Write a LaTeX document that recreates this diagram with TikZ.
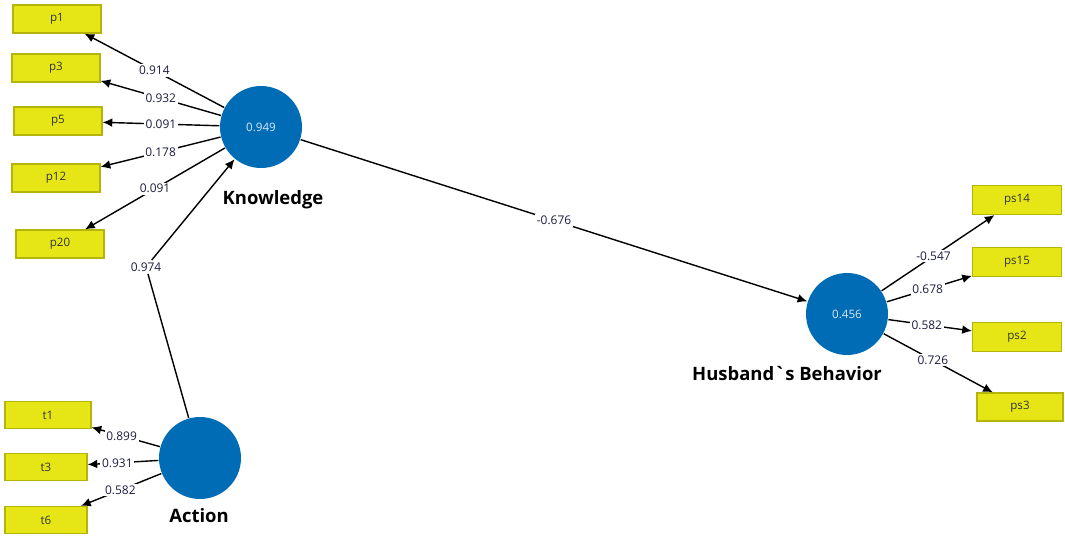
\documentclass[tikz,border=0pt]{standalone}
\usepackage{fontspec}
\setmainfont{Open Sans}
\usepackage{tikz}
\usetikzlibrary{calc}
\usetikzlibrary{arrows.meta}
\tikzset{>={Latex[length=5.5pt,width=5pt]}}
\definecolor{boxyellow}{RGB}{230,230,22}
\definecolor{boxedge}{RGB}{180,180,10}
\definecolor{lvblue}{RGB}{0,108,182}
\definecolor{wtcol}{RGB}{28,28,64}
\tikzset{
  ind/.style={draw=boxedge, fill=boxyellow, line width=0.7pt, minimum width=1.76cm, minimum height=0.56cm, inner sep=0pt, text=black!80, font=\fontsize{6.6}{7}\selectfont},
  lv/.style={circle, fill=lvblue, minimum size=1.64cm, inner sep=0pt, text=white!85!lvblue, font=\fontsize{6.6}{7}\selectfont},
  lvname/.style={anchor=base, font=\bfseries\fontsize{10.5}{12}\selectfont},
  wt/.style={fill=white, inner sep=1pt, text=wtcol, font=\fontsize{6.8}{8}\selectfont},
}

\begin{document}
\begin{tikzpicture}[x=0.02cm, y=-0.02cm, line width=0.8pt]
                        \useasboundingbox (0,0) rectangle (1065,537);
                        % latent variables
                        \node[lv] (know) at (261,127) {0.949};
                        \node[lv] (act) at (200,458) {};
                        \node[lv] (hb) at (847,314) {0.456};
                        \node[lvname] at (273,204) {Knowledge};
                        \node[lvname] at (199,522) {Action};
                        \node[lvname] at (787,380) {Husband\textasciigrave s Behavior};

                        % indicators of Knowledge
                        \node[ind] (p1) at (57,19) {p1};
                        \node[ind] (p3) at (56,68) {p3};
                        \node[ind] (p5) at (58,121) {p5};
                        \node[ind] (p12) at (56,178) {p12};
                        \node[ind] (p20) at (60,244) {p20};
                        % indicators of Action
                        \node[ind, minimum width=1.72cm, minimum height=0.54cm] (t1) at (48,415) {t1};
                        \node[ind, minimum width=1.64cm, minimum height=0.54cm] (t3) at (46,467) {t3};
                        \node[ind, minimum width=1.64cm, minimum height=0.54cm] (t6) at (46,520) {t6};
                        % indicators of Husband`s Behavior
                        \node[ind, minimum width=1.78cm, minimum height=0.58cm] (ps14) at (1017,200) {ps14};
                        \node[ind, minimum width=1.78cm, minimum height=0.58cm] (ps15) at (1017,262) {ps15};
                        \node[ind, minimum width=1.78cm, minimum height=0.58cm] (ps2) at (1017,337) {ps2};
                        \node[ind, minimum width=1.72cm, minimum height=0.56cm] (ps3) at (1020,407) {ps3};

                        % Knowledge to p1 ... p20
                        \draw[->] (know) -- node[wt] {0.914} (p1);
                        \draw[->] (know) -- node[wt] {0.932} (p3);
                        \draw[->] (know) -- node[wt] {0.091} (p5);
                        \draw[->] (know) -- node[wt] {0.178} (p12);
                        \draw[->] (know) -- node[wt] {0.091} (p20);
                        % Action to t1, t3, t6
                        \draw[->] (act) -- node[wt, pos=0.56] {0.899} (t1);
                        \draw[->] (act) -- node[wt, pos=0.58] {0.931} (t3);
                        \draw[->] (act) -- node[wt, pos=0.51] {0.582} (t6);
                        % Action to Knowledge, bent at its weight
                        \node[wt] (w974) at (146,267) {0.974};
                        \draw (act) -- (w974);
                        \draw[->] (w974) -- (know);
                        % Knowledge to Husband`s Behavior
                        \draw[->] (know) -- node[wt] {-0.676} (hb);
                        % Husband`s Behavior to ps14 ... ps3
                        \draw[->] (hb) -- node[wt, pos=0.46] {-0.547} (ps14);
                        \draw[->] (hb) -- node[wt, pos=0.48] {0.678} (ps15);
                        \draw[->] (hb) -- node[wt, pos=0.46] {0.582} (ps2);
                        \draw[->] (hb) -- node[wt, pos=0.45] {0.726} (ps3);
                    \end{tikzpicture}
\end{document}
